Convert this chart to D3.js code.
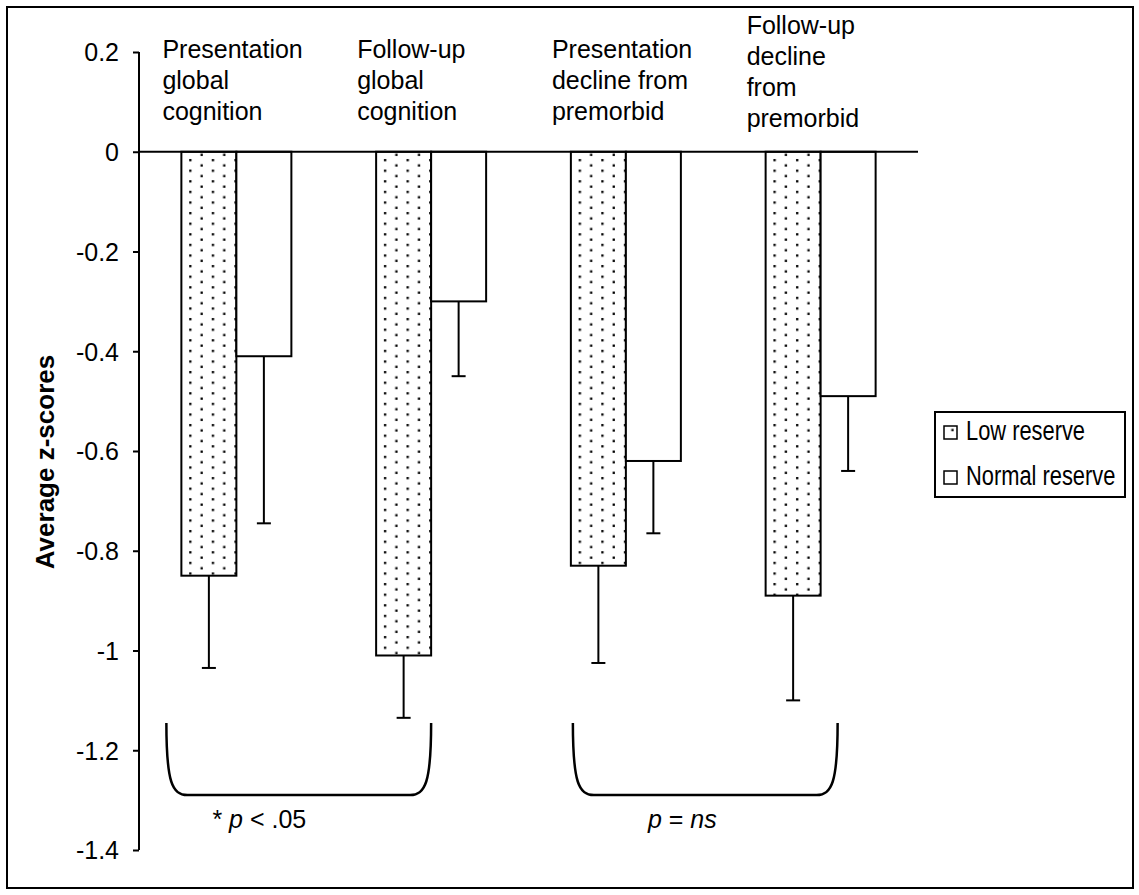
<!DOCTYPE html>
<html>
<head>
<meta charset="utf-8">
<script src="https://cdn.jsdelivr.net/npm/d3@7"></script>
<style>
    body { margin: 0; background: #fff; }
    svg { display: block; font-family: "Liberation Sans", Arial, sans-serif; }
    .axis path, .axis line { stroke: #000; stroke-width: 2px; }
    .axis text { font-size: 25px; fill: #000; }
    .bar { stroke: #000; stroke-width: 2px; }
    .err { stroke: #000; stroke-width: 2px; fill: none; }
    .brace { stroke: #000; stroke-width: 2.5px; fill: none; }
</style>
</head>
<body>
<svg id="svg"></svg>
<script>
    // category labels, one entry per line
    const categories = [
        ['Presentation', 'global', 'cognition'],
        ['Follow-up', 'global', 'cognition'],
        ['Presentation', 'decline from', 'premorbid'],
        ['Follow-up', 'decline', 'from', 'premorbid']
    ];
    const seriesNames = ['Low reserve', 'Normal reserve'];
    const lowReserve = [-0.85, -1.01, -0.83, -0.89];
    const lowReserveErr = [0.185, 0.125, 0.195, 0.21];
    const normalReserve = [-0.41, -0.30, -0.62, -0.49];
    const normalReserveErr = [0.335, 0.15, 0.145, 0.15];
    const yTicks = [0.2, 0, -0.2, -0.4, -0.6, -0.8, -1, -1.2, -1.4];
    const yTitle = 'Average z-scores';
    const comparisons = [
        {from: 0, to: 1, label: ['* ', 'p', ' < .05']},
        {from: 2, to: 3, label: ['', 'p', ' = ', 'ns']}
    ];

    const W = 1139, H = 895;
    const margin = {top: 52, right: 221, bottom: 45, left: 139};
    const width = W - margin.left - margin.right,
        height = H - margin.top - margin.bottom;

    const svg = d3.select('#svg')
        .attr('width', W)
        .attr('height', H);

    // dotted fill used for the low reserve bars
    const defs = svg.append('defs');
    const pat = defs.append('pattern')
        .attr('id', 'dots')
        .attr('patternUnits', 'userSpaceOnUse')
        .attr('width', 22.6)
        .attr('height', 10.6);
    pat.append('rect').attr('width', 22.6).attr('height', 10.6).attr('fill', '#fff');
    pat.append('rect').attr('x', 5).attr('y', 1).attr('width', 2.3).attr('height', 2.3).attr('fill', '#000');
    pat.append('rect').attr('x', 16.3).attr('y', 6.3).attr('width', 2.3).attr('height', 2.3).attr('fill', '#000');

    // outer frame
    svg.append('rect')
        .attr('x', 7).attr('y', 7)
        .attr('width', 1126).attr('height', 881)
        .attr('fill', 'none')
        .attr('stroke', '#000')
        .attr('stroke-width', 2);

    const g = svg.append('g')
        .attr('transform', 'translate(' + margin.left + ',' + margin.top + ')');

    const x = d3.scaleBand()
        .domain(d3.range(categories.length))
        .range([0, width]);
    const bw = x.bandwidth();
    const x1 = d3.scaleBand()
        .domain(seriesNames)
        .range([bw / 2 - 55, bw / 2 + 55]);
    const y = d3.scaleLinear()
        .domain([-1.4, 0.2])
        .range([height, 0]);

    const rows = categories.map((c, i) => [
        {s: seriesNames[0], i: i, v: lowReserve[i], e: lowReserveErr[i], fill: 'url(#dots)'},
        {s: seriesNames[1], i: i, v: normalReserve[i], e: normalReserveErr[i], fill: '#fff'}
    ]);

    const groups = g.selectAll('.grp')
        .data(rows)
        .enter().append('g')
        .attr('class', 'grp')
        .attr('transform', (d, i) => 'translate(' + x(i) + ',0)');

    groups.selectAll('.bar')
        .data(d => d)
        .enter().append('rect')
        .attr('class', 'bar')
        .attr('x', d => x1(d.s))
        .attr('width', x1.bandwidth())
        .attr('y', d => y(0))
        .attr('height', d => y(d.v) - y(0))
        .attr('fill', d => d.fill);

    // error bars (downward only)
    const errs = groups.selectAll('.errg')
        .data(d => d)
        .enter().append('g')
        .attr('class', 'errg');
    errs.append('line')
        .attr('class', 'err')
        .attr('x1', d => x1(d.s) + x1.bandwidth() / 2)
        .attr('x2', d => x1(d.s) + x1.bandwidth() / 2)
        .attr('y1', d => y(d.v))
        .attr('y2', d => y(d.v - d.e));
    errs.append('line')
        .attr('class', 'err')
        .attr('x1', d => x1(d.s) + x1.bandwidth() / 2 - 7)
        .attr('x2', d => x1(d.s) + x1.bandwidth() / 2 + 7)
        .attr('y1', d => y(d.v - d.e))
        .attr('y2', d => y(d.v - d.e));

    // axes
    g.append('g')
        .attr('class', 'axis')
        .call(d3.axisLeft(y)
            .tickValues(yTicks)
            .tickSize(6)
            .tickPadding(14)
            .tickSizeOuter(0)
            .tickFormat(d => String(+d.toFixed(1))));
    g.select('.axis .domain').attr('d', 'M0,' + y(0.2) + 'V' + y(-1.4));
    g.selectAll('.axis text').attr('dy', '0.35em');

    g.append('line')
        .attr('x1', 0).attr('x2', width)
        .attr('y1', y(0)).attr('y2', y(0))
        .attr('stroke', '#000').attr('stroke-width', 2);

    // category labels above the bars
    const labels = g.selectAll('.cat')
        .data(categories)
        .enter().append('text')
        .attr('class', 'cat')
        .attr('font-size', 25)
        .attr('x', (d, i) => x(i) + x1(seriesNames[0]) - 19)
        .attr('y', d => (d.length > 3 ? -18 : 6));
    labels.selectAll('tspan')
        .data(d => d)
        .enter().append('tspan')
        .attr('x', function () { return this.parentNode.getAttribute('x'); })
        .attr('dy', (d, j) => j === 0 ? 0 : 31)
        .text(d => d);

    // y title
    svg.append('text')
        .attr('transform', 'translate(54,462) rotate(-90)')
        .attr('text-anchor', 'middle')
        .attr('font-size', 26)
        .attr('font-weight', 'bold')
        .text(yTitle);

    // brackets under the compared pairs
    const cx = i => x(i) + bw / 2;
    const braceOff = [[-70, 0], [-53, 17]];
    const bTop = 723 - margin.top, bBot = 795 - margin.top;
    comparisons.forEach((c, k) => {
        const l = cx(c.from) + braceOff[k][0], r = cx(c.to) + braceOff[k][1];
        g.append('path')
            .attr('class', 'brace')
            .attr('d', 'M' + l + ',' + bTop +
                'C' + l + ',' + (bBot - 12) + ' ' + (l + 6) + ',' + bBot + ' ' + (l + 21) + ',' + bBot +
                'L' + (r - 21) + ',' + bBot +
                'C' + (r - 6) + ',' + bBot + ' ' + r + ',' + (bBot - 12) + ' ' + r + ',' + bTop);
        const t = g.append('text')
            .attr('x', l + (k === 0 ? 46 : 75))
            .attr('y', 828 - margin.top)
            .attr('font-size', 25);
        c.label.forEach((s, j) => {
            t.append('tspan')
                .attr('font-style', j % 2 === 1 ? 'italic' : 'normal')
                .text(s);
        });
    });

    // legend
    const lg = svg.append('g').attr('transform', 'translate(935,412)');
    lg.append('rect')
        .attr('width', 190).attr('height', 85)
        .attr('fill', '#fff').attr('stroke', '#000').attr('stroke-width', 2);
    seriesNames.forEach((s, i) => {
        lg.append('rect')
            .attr('x', 9).attr('y', 14 + i * 45)
            .attr('width', 13).attr('height', 13)
            .attr('fill', i === 0 ? 'url(#dots)' : '#fff')
            .attr('stroke', '#000').attr('stroke-width', 1.5);
        // narrow face is not installed, squeeze the regular one
        lg.append('text')
            .attr('transform', 'translate(31,' + (28 + i * 45) + ') scale(0.81,1)')
            .attr('font-size', 27)
            .text(s);
    });
</script>
</body>
</html>
